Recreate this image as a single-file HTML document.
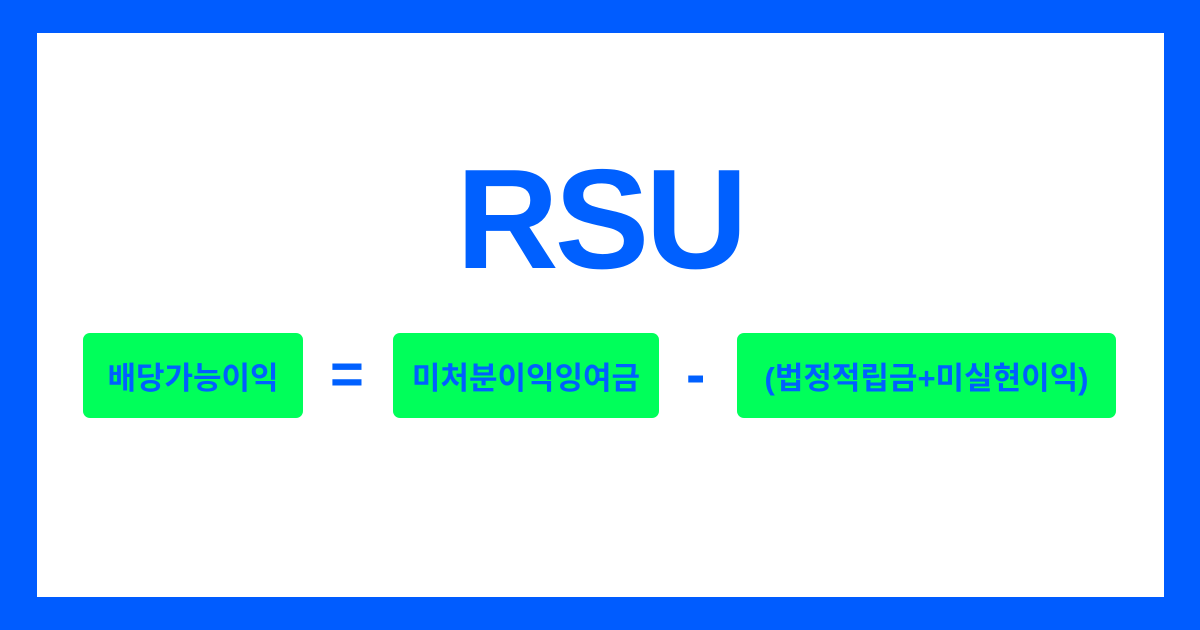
<!DOCTYPE html>
<html><head><meta charset="utf-8"><style>
body{margin:0;width:1200px;height:630px;background:#005CFF;position:relative;overflow:hidden;font-family:"Liberation Sans","Noto Sans CJK KR",sans-serif;}
.in{position:absolute;left:37px;top:33px;width:1127px;height:564px;background:#fff;}
.t{position:absolute;left:0;width:1200px;top:145px;text-align:center;font-size:142px;font-weight:bold;color:#0060FF;line-height:150px;letter-spacing:-4px}
.b{position:absolute;top:333px;height:85px;background:#00FF5A;border-radius:7px;color:#0060FF;font-size:31px;font-weight:bold;display:flex;align-items:center;justify-content:center;}
.op{position:absolute;top:343px;color:#0060FF;font-size:58px;font-weight:bold;line-height:64px}
</style></head><body>
<div class="in"></div>
<div class="t">RSU</div>
<div class="b" style="left:83px;width:220px">배당가능이익</div>
<div class="op" style="left:330px">=</div>
<div class="b" style="left:393px;width:266px">미처분이익잉여금</div>
<div class="op" style="left:686px">-</div>
<div class="b" style="left:737px;width:379px">(법정적립금+미실현이익)</div>
</body></html>
